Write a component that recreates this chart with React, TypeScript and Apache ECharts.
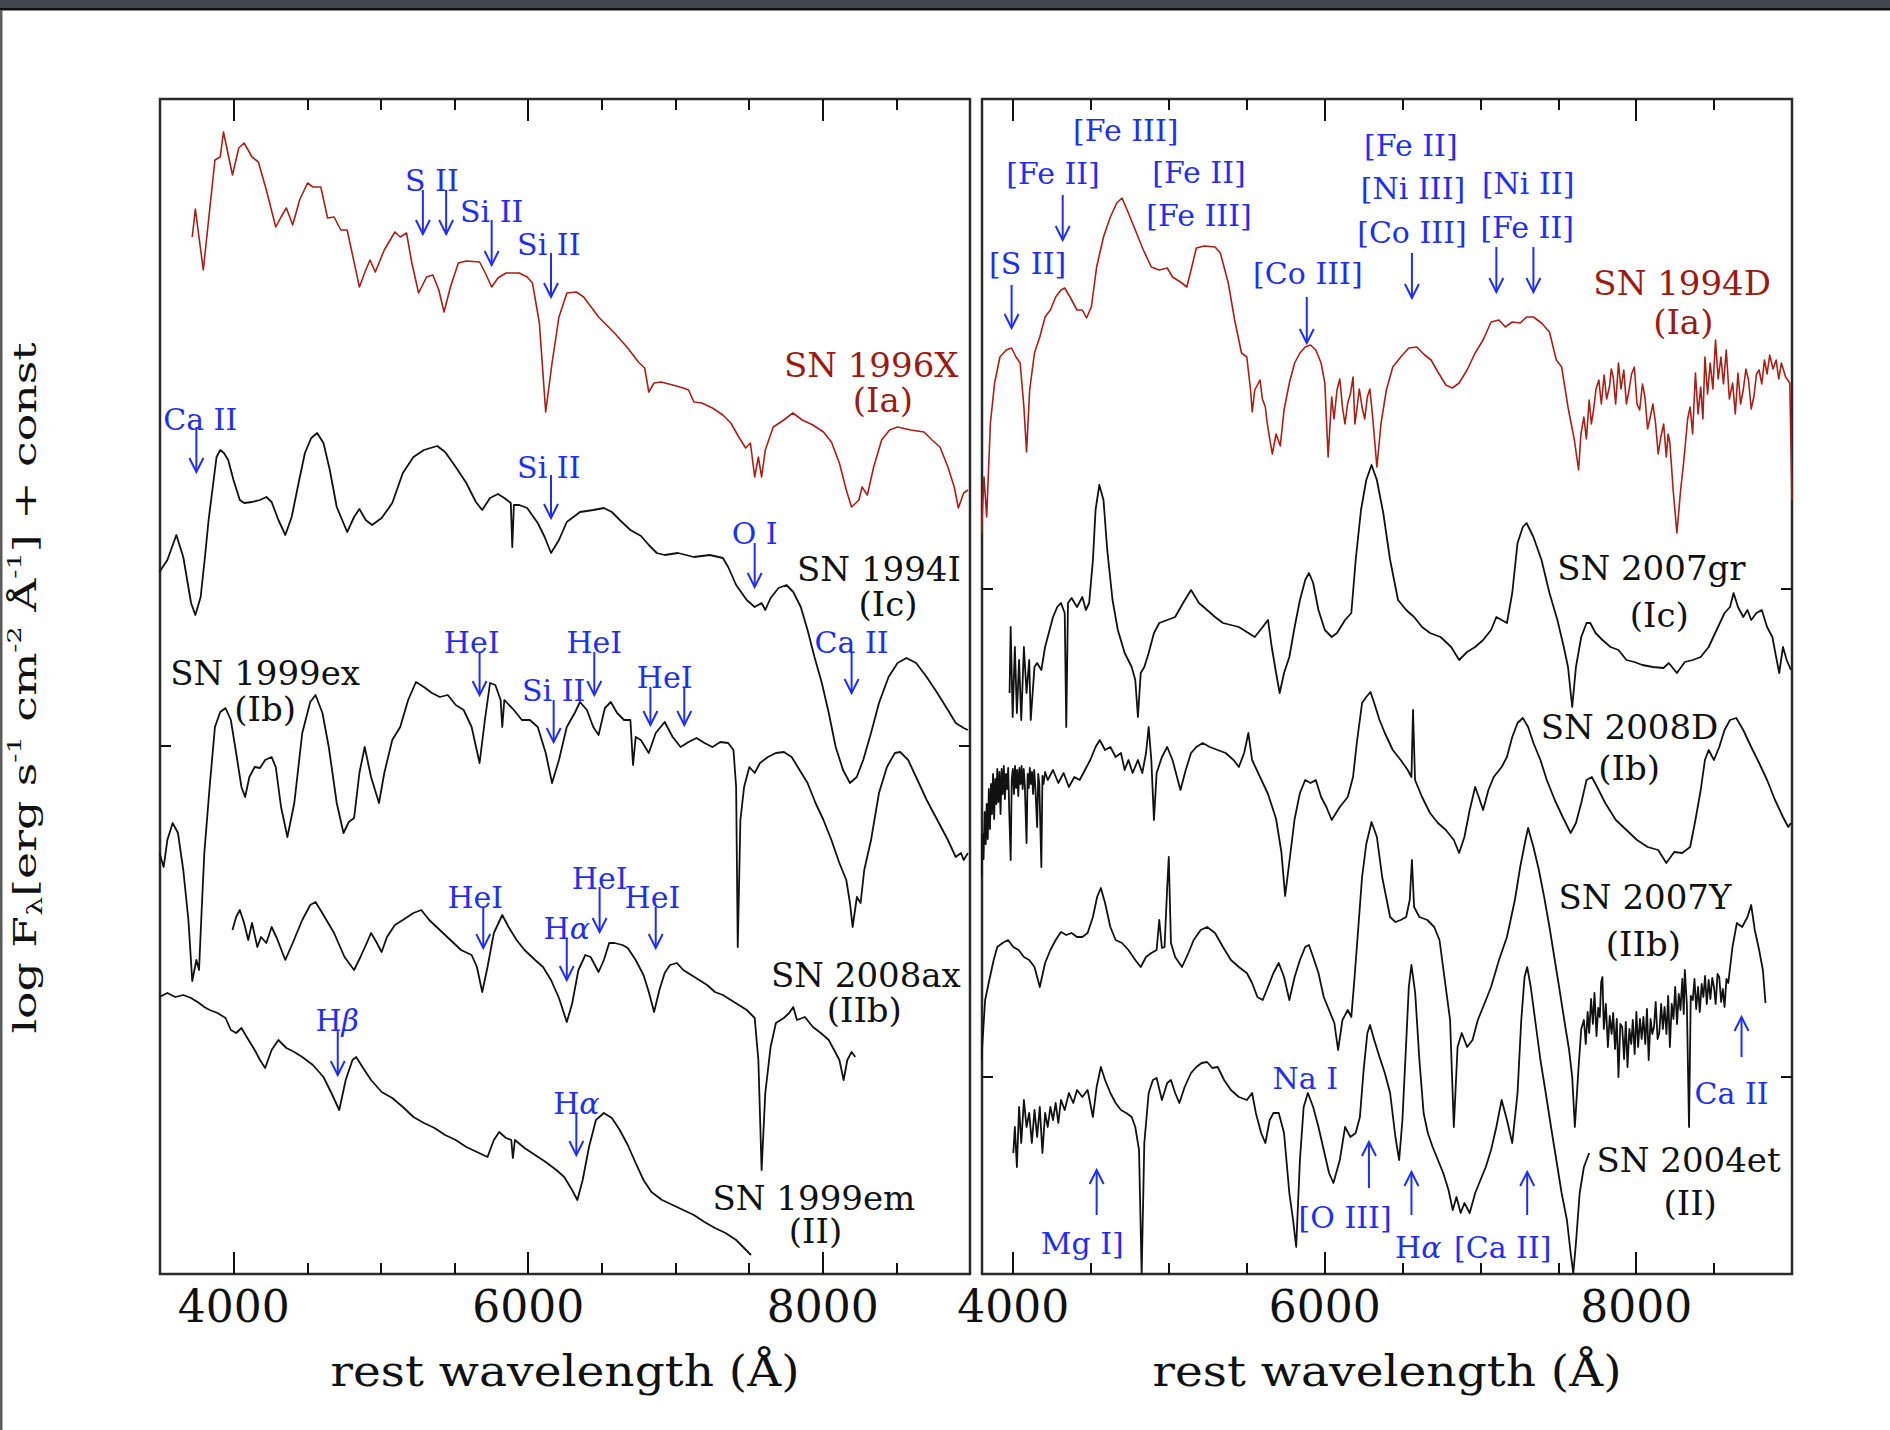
import React, { useEffect, useRef } from "react";
import * as echarts from "echarts";

const SERIF = '"DejaVu Serif", "Liberation Serif", serif';
const INK = "#111111";
const RED = "#a81f17";
const RED_TEXT = "#9c1a12";
const BLUE = "#1f2ff0";

// axes
const LEFT_RANGE = [3500, 9000];
const RIGHT_RANGE = [3800, 9000];
const MAJOR_TICKS = [4000, 6000, 8000];
const MINOR_TICKS = [4000, 4500, 5000, 5500, 6000, 6500, 7000, 7500, 8000, 8500];
const Y_RANGE = [0, 11.75];
const LEFT_Y_TICKS = [5.28];
const RIGHT_Y_TICKS = [1.97, 6.85];

// ---- left panel spectra: [wavelength (Å), log F + const] ----
const sn1996X = [[3719,10.37],[3740,10.65],[3794,10.04],[3873,11.14],[3909,11.17],[3931,11.42],[3992,10.99],[4035,11.26],[4071,11.31],[4125,11.17],[4168,11.12],[4222,10.84],[4286,10.47],[4322,10.57],[4358,10.66],[4401,10.49],[4448,10.74],[4502,10.91],[4538,10.87],[4592,10.87],[4638,10.56],[4682,10.57],[4728,10.44],[4771,10.44],[4800,10.24],[4854,9.87],[4897,10.04],[4926,10.14],[4962,10.02],[5023,10.24],[5095,10.42],[5131,10.37],[5174,10.41],[5210,10.11],[5256,9.81],[5310,9.97],[5353,9.99],[5393,9.84],[5429,9.62],[5472,9.87],[5526,10.11],[5580,10.13],[5670,10.12],[5706,10.02],[5752,9.87],[5795,9.96],[5849,10.01],[5939,10.01],[5993,9.97],[6029,9.91],[6076,9.51],[6119,8.62],[6162,9.11],[6209,9.57],[6263,9.81],[6327,9.82],[6377,9.77],[6478,9.57],[6586,9.41],[6676,9.26],[6748,9.12],[6791,9.06],[6819,8.82],[6855,8.91],[6902,8.92],[6981,8.89],[7053,8.86],[7089,8.84],[7125,8.72],[7179,8.71],[7251,8.66],[7322,8.59],[7376,8.51],[7430,8.37],[7477,8.26],[7509,8.31],[7538,7.97],[7563,8.17],[7585,7.97],[7610,8.24],[7664,8.47],[7736,8.54],[7797,8.61],[7861,8.54],[7933,8.49],[8005,8.42],[8059,8.32],[8113,8.11],[8160,7.84],[8196,7.67],[8246,7.74],[8267,7.87],[8303,7.79],[8346,8.07],[8400,8.34],[8454,8.44],[8508,8.47],[8598,8.44],[8688,8.42],[8742,8.34],[8796,8.27],[8850,8.07],[8893,7.87],[8921,7.66],[8957,7.81],[8986,7.84]];

const sn1994I = [[3496,7.02],[3550,7.14],[3611,7.39],[3658,7.17],[3711,6.71],[3740,6.59],[3776,6.77],[3808,7.21],[3830,7.54],[3884,8.17],[3909,8.24],[3934,8.21],[3963,8.14],[3999,7.94],[4042,7.74],[4071,7.71],[4125,7.72],[4179,7.74],[4222,7.77],[4258,7.72],[4304,7.54],[4351,7.39],[4394,7.57],[4441,7.91],[4484,8.21],[4527,8.36],[4567,8.41],[4610,8.31],[4653,8.04],[4700,7.67],[4771,7.42],[4818,7.57],[4854,7.65],[4897,7.54],[4940,7.49],[5005,7.56],[5077,7.71],[5149,8.01],[5221,8.17],[5292,8.24],[5382,8.28],[5436,8.22],[5508,8.07],[5580,7.91],[5645,7.72],[5688,7.64],[5741,7.76],[5795,7.80],[5838,7.76],[5882,7.71],[5892,7.27],[5903,7.69],[5939,7.69],[5993,7.66],[6065,7.51],[6112,7.37],[6155,7.21],[6209,7.34],[6262,7.52],[6298,7.56],[6352,7.62],[6442,7.64],[6514,7.66],[6568,7.62],[6622,7.54],[6694,7.44],[6766,7.38],[6819,7.29],[6873,7.21],[6927,7.19],[7017,7.21],[7125,7.17],[7233,7.19],[7322,7.16],[7358,7.07],[7412,6.89],[7484,6.74],[7538,6.67],[7585,6.71],[7610,6.64],[7646,6.76],[7700,6.86],[7754,6.89],[7800,6.82],[7851,6.67],[7897,6.44],[7944,6.17],[7994,5.91],[8041,5.61],[8088,5.27],[8138,5.04],[8185,4.91],[8231,4.97],[8275,5.14],[8328,5.41],[8382,5.71],[8447,5.97],[8508,6.11],[8569,6.16],[8634,6.11],[8706,5.97],[8778,5.81],[8850,5.64],[8903,5.51],[8957,5.46],[8986,5.44]];

const sn1999ex = [[3496,4.21],[3525,4.07],[3550,4.34],[3586,4.51],[3622,4.41],[3658,4.04],[3693,3.54],[3719,2.93],[3747,3.14],[3765,3.04],[3783,3.64],[3801,4.21],[3837,4.87],[3873,5.47],[3909,5.62],[3945,5.66],[3981,5.54],[4017,5.21],[4053,4.87],[4078,4.77],[4107,4.97],[4143,5.07],[4179,5.06],[4214,5.14],[4258,5.17],[4286,5.07],[4322,4.67],[4365,4.37],[4412,4.71],[4466,5.41],[4520,5.72],[4556,5.79],[4603,5.61],[4646,5.27],[4700,4.71],[4746,4.41],[4782,4.52],[4818,4.56],[4854,5.01],[4890,5.27],[4933,4.97],[4987,4.71],[5023,5.01],[5077,5.34],[5131,5.47],[5185,5.74],[5238,5.92],[5292,5.87],[5346,5.81],[5400,5.77],[5454,5.79],[5508,5.69],[5562,5.64],[5616,5.47],[5670,5.11],[5706,5.54],[5741,5.91],[5777,5.89],[5813,5.74],[5824,5.47],[5838,5.74],[5903,5.64],[5957,5.54],[6011,5.54],[6065,5.47],[6119,5.21],[6162,4.91],[6209,5.14],[6262,5.47],[6316,5.61],[6352,5.72],[6399,5.64],[6442,5.47],[6478,5.39],[6521,5.66],[6561,5.72],[6604,5.61],[6651,5.54],[6694,5.54],[6712,5.09],[6730,5.37],[6765,5.34],[6819,5.21],[6866,5.41],[6927,5.52],[6981,5.37],[7035,5.27],[7089,5.32],[7143,5.36],[7197,5.31],[7251,5.27],[7305,5.32],[7358,5.31],[7394,5.24],[7412,4.87],[7423,3.27],[7441,4.54],[7466,4.87],[7502,5.07],[7538,5.01],[7574,5.11],[7628,5.17],[7682,5.21],[7736,5.22],[7789,5.17],[7843,5.04],[7897,4.91],[7951,4.71],[8005,4.54],[8059,4.34],[8113,4.11],[8160,3.94],[8185,3.71],[8203,3.47],[8232,3.77],[8257,3.71],[8282,4.04],[8328,4.34],[8382,4.81],[8436,5.07],[8490,5.21],[8526,5.22],[8580,5.14],[8634,4.97],[8706,4.74],[8778,4.54],[8850,4.34],[8903,4.17],[8939,4.21],[8957,4.14],[8986,4.21]];

const sn2008ax = [[3992,3.44],[4017,3.57],[4042,3.64],[4071,3.51],[4099,3.34],[4125,3.51],[4161,3.27],[4186,3.37],[4222,3.31],[4258,3.47],[4293,3.36],[4351,3.14],[4401,3.31],[4466,3.54],[4520,3.69],[4556,3.72],[4610,3.59],[4682,3.41],[4753,3.17],[4818,3.04],[4861,3.17],[4904,3.31],[4933,3.41],[4969,3.32],[5005,3.22],[5041,3.37],[5095,3.49],[5149,3.54],[5221,3.61],[5274,3.64],[5328,3.54],[5400,3.44],[5472,3.34],[5544,3.24],[5616,3.19],[5652,3.07],[5688,2.82],[5724,3.07],[5767,3.41],[5824,3.59],[5867,3.47],[5921,3.34],[5975,3.24],[6047,3.14],[6101,3.07],[6155,2.94],[6209,2.76],[6262,2.52],[6298,2.70],[6341,3.04],[6388,3.19],[6424,3.17],[6478,3.02],[6514,3.14],[6550,3.31],[6586,3.31],[6640,3.29],[6676,3.26],[6730,3.14],[6783,2.99],[6819,2.82],[6855,2.62],[6891,2.84],[6927,3.01],[6963,3.09],[7010,3.11],[7053,3.04],[7107,2.99],[7161,2.94],[7215,2.89],[7268,2.82],[7322,2.79],[7376,2.74],[7430,2.69],[7484,2.64],[7538,2.56],[7563,2.14],[7585,1.04],[7610,1.81],[7646,2.27],[7682,2.51],[7736,2.56],[7772,2.61],[7800,2.67],[7825,2.54],[7879,2.57],[7933,2.47],[7987,2.41],[8041,2.34],[8088,2.21],[8113,2.14],[8142,1.94],[8167,2.14],[8196,2.22],[8221,2.17]];

const sn1999em = [[3496,2.77],[3550,2.81],[3604,2.77],[3658,2.79],[3711,2.76],[3765,2.71],[3801,2.67],[3837,2.64],[3891,2.61],[3945,2.56],[3981,2.44],[4017,2.41],[4053,2.46],[4089,2.37],[4143,2.24],[4179,2.14],[4214,2.06],[4258,2.24],[4304,2.34],[4358,2.26],[4412,2.22],[4466,2.17],[4538,2.09],[4610,1.97],[4664,1.81],[4717,1.64],[4761,1.94],[4807,2.14],[4832,2.17],[4879,2.06],[4933,1.94],[5005,1.82],[5077,1.76],[5149,1.67],[5221,1.57],[5292,1.51],[5364,1.46],[5436,1.39],[5508,1.34],[5580,1.27],[5652,1.22],[5724,1.17],[5767,1.34],[5803,1.42],[5849,1.36],[5885,1.34],[5896,1.16],[5910,1.34],[5975,1.26],[6047,1.19],[6119,1.12],[6191,1.04],[6245,0.97],[6298,0.84],[6334,0.74],[6370,0.94],[6413,1.27],[6460,1.54],[6514,1.61],[6568,1.56],[6622,1.44],[6676,1.29],[6730,1.11],[6783,0.94],[6837,0.82],[6909,0.74],[6981,0.69],[7053,0.64],[7125,0.59],[7197,0.52],[7268,0.46],[7340,0.41],[7412,0.34],[7466,0.26],[7513,0.19]];

// ---- right panel spectra ----
const sn1994D = [[3796,7.41],[3813,7.97],[3830,7.57],[3854,8.51],[3881,8.91],[3915,9.17],[3956,9.24],[3990,9.26],[4018,9.17],[4045,9.11],[4069,8.67],[4086,8.22],[4106,8.84],[4137,9.21],[4171,9.37],[4205,9.57],[4239,9.64],[4273,9.77],[4307,9.84],[4331,9.86],[4365,9.77],[4410,9.64],[4444,9.64],[4471,9.56],[4502,9.67],[4536,10.07],[4580,10.37],[4624,10.57],[4665,10.71],[4699,10.76],[4740,10.61],[4784,10.44],[4836,10.24],[4887,10.07],[4938,10.04],[4989,10.06],[5023,9.97],[5074,9.92],[5115,9.87],[5142,10.04],[5176,10.26],[5227,10.28],[5296,10.27],[5330,10.21],[5381,9.91],[5422,9.54],[5466,9.21],[5500,9.17],[5524,8.84],[5535,8.62],[5551,8.84],[5585,8.94],[5600,8.75],[5619,8.67],[5630,8.52],[5647,8.35],[5664,8.20],[5688,8.40],[5715,8.28],[5739,8.64],[5773,8.91],[5807,9.11],[5841,9.21],[5875,9.27],[5909,9.29],[5943,9.24],[5977,9.11],[6001,8.91],[6022,8.17],[6045,8.77],[6060,8.55],[6079,8.84],[6097,8.95],[6114,8.67],[6130,8.50],[6148,8.71],[6165,8.80],[6182,8.97],[6194,8.50],[6206,8.64],[6222,8.85],[6240,8.67],[6257,8.55],[6274,8.77],[6290,8.85],[6308,8.57],[6335,8.07],[6362,8.51],[6396,8.84],[6437,9.07],[6488,9.17],[6540,9.26],[6591,9.27],[6642,9.19],[6683,9.14],[6727,9.02],[6778,8.89],[6819,8.86],[6863,8.91],[6914,9.04],[6966,9.21],[7017,9.34],[7068,9.52],[7119,9.54],[7160,9.47],[7204,9.52],[7255,9.51],[7296,9.57],[7340,9.57],[7392,9.51],[7443,9.42],[7487,9.14],[7521,9.07],[7562,8.67],[7603,8.34],[7630,8.04],[7645,8.40],[7664,8.57],[7680,8.35],[7698,8.74],[7712,8.50],[7726,8.64],[7742,8.85],[7760,8.94],[7776,8.70],[7794,8.99],[7810,8.75],[7828,8.87],[7840,9.05],[7852,8.97],[7868,8.70],[7886,9.11],[7902,8.85],[7920,9.04],[7937,8.70],[7954,8.84],[7970,9.00],[7988,9.07],[8005,8.70],[8022,8.64],[8040,8.90],[8056,8.77],[8073,8.45],[8090,8.57],[8107,8.70],[8124,8.51],[8141,8.20],[8158,8.37],[8176,8.50],[8193,8.17],[8205,8.40],[8216,8.31],[8237,7.84],[8261,7.41],[8285,7.84],[8300,8.05],[8312,8.24],[8330,8.55],[8346,8.67],[8362,8.40],[8380,9.01],[8397,8.60],[8414,8.87],[8428,8.55],[8441,9.17],[8458,8.80],[8475,9.11],[8492,8.85],[8509,9.34],[8526,8.95],[8544,9.17],[8560,8.90],[8578,9.24],[8598,8.75],[8619,8.91],[8636,8.60],[8653,9.01],[8670,8.70],[8687,8.84],[8704,9.05],[8721,8.94],[8738,8.65],[8755,8.77],[8772,9.00],[8789,9.04],[8806,8.90],[8823,9.14],[8840,9.00],[8857,9.19],[8878,9.05],[8898,9.14],[8915,8.95],[8932,9.11],[8959,8.97],[8986,8.91],[9000,7.74]];

const sn2007gr = [[3977,5.81],[3984,6.47],[3997,5.57],[4011,6.27],[4024,5.61],[4038,6.14],[4052,5.54],[4069,6.27],[4086,5.81],[4103,6.14],[4113,5.54],[4137,6.07],[4154,6.11],[4181,6.04],[4205,6.27],[4239,6.47],[4256,6.57],[4283,6.67],[4307,6.71],[4331,6.61],[4341,5.47],[4352,6.71],[4375,6.76],[4410,6.67],[4444,6.77],[4467,6.64],[4488,6.71],[4512,7.14],[4529,7.64],[4553,7.89],[4580,7.74],[4604,7.24],[4638,6.74],[4672,6.44],[4716,6.21],[4761,6.07],[4784,5.94],[4801,5.57],[4819,6.01],[4842,6.07],[4870,6.21],[4904,6.41],[4938,6.51],[4989,6.54],[5040,6.57],[5091,6.71],[5142,6.84],[5193,6.71],[5245,6.64],[5296,6.57],[5347,6.51],[5398,6.49],[5449,6.47],[5500,6.42],[5551,6.37],[5602,6.47],[5636,6.54],[5660,6.27],[5688,6.01],[5711,5.81],[5739,6.01],[5773,6.17],[5807,6.47],[5841,6.74],[5875,6.94],[5899,7.01],[5926,6.91],[5960,6.64],[6001,6.44],[6045,6.37],[6079,6.41],[6131,6.54],[6171,6.61],[6199,7.14],[6233,7.64],[6267,7.94],[6301,8.09],[6335,7.94],[6376,7.61],[6420,7.14],[6471,6.74],[6523,6.64],[6574,6.57],[6625,6.47],[6676,6.41],[6744,6.37],[6812,6.27],[6863,6.14],[6914,6.22],[6966,6.27],[7017,6.34],[7068,6.44],[7102,6.57],[7136,6.54],[7170,6.51],[7204,6.81],[7238,7.31],[7272,7.47],[7296,7.51],[7340,7.37],[7392,7.14],[7443,6.81],[7494,6.54],[7535,6.27],[7562,6.07],[7589,5.67],[7613,6.07],[7647,6.37],[7681,6.51],[7705,6.51],[7739,6.41],[7783,6.34],[7835,6.27],[7886,6.24],[7937,6.14],[7988,6.12],[8039,6.09],[8107,6.07],[8175,6.06],[8209,6.11],[8261,6.01],[8312,6.12],[8363,6.14],[8414,6.17],[8465,6.27],[8516,6.44],[8567,6.61],[8602,6.67],[8625,6.81],[8653,6.67],[8687,6.57],[8714,6.64],[8738,6.54],[8772,6.61],[8806,6.64],[8840,6.47],[8874,6.37],[8898,6.17],[8918,6.01],[8942,6.27],[8966,6.14],[8993,6.04]];

const sn2008D = [[3796,3.97],[3803,4.40],[3810,4.15],[3817,4.62],[3824,4.30],[3830,4.70],[3837,4.35],[3844,4.85],[3851,4.45],[3858,4.90],[3864,4.60],[3871,5.00],[3878,4.55],[3885,4.95],[3892,4.70],[3898,5.05],[3905,4.72],[3912,5.02],[3919,4.60],[3926,5.05],[3933,4.80],[3940,5.08],[3947,4.75],[3954,5.00],[3961,4.85],[3968,5.06],[3975,4.62],[3984,4.14],[3991,4.95],[3998,5.05],[4005,4.80],[4012,5.08],[4019,4.86],[4026,5.04],[4033,4.78],[4040,5.06],[4047,4.90],[4054,5.08],[4061,4.85],[4068,5.05],[4075,4.88],[4086,4.31],[4093,5.00],[4100,4.86],[4107,5.06],[4114,4.90],[4121,5.02],[4128,4.80],[4135,5.04],[4142,4.88],[4154,4.47],[4161,5.00],[4168,4.90],[4181,4.07],[4188,4.98],[4195,4.90],[4205,5.02],[4222,4.94],[4256,5.04],[4290,4.91],[4324,5.01],[4358,4.87],[4393,4.97],[4427,4.94],[4461,5.04],[4495,5.14],[4529,5.27],[4556,5.34],[4590,5.24],[4624,5.27],[4658,5.17],[4692,5.21],[4716,5.04],[4740,5.14],[4767,5.01],[4801,5.14],[4829,5.01],[4853,5.21],[4870,5.47],[4887,5.14],[4904,4.54],[4921,5.01],[4955,5.17],[4989,5.27],[5023,5.14],[5057,4.94],[5074,4.84],[5108,5.04],[5142,5.21],[5176,5.27],[5217,5.31],[5262,5.27],[5313,5.24],[5364,5.21],[5415,5.14],[5449,5.07],[5483,5.21],[5510,5.41],[5534,5.14],[5585,4.97],[5636,4.80],[5688,4.55],[5722,4.22],[5746,3.78],[5773,4.12],[5807,4.55],[5841,4.81],[5875,4.94],[5909,4.91],[5943,4.94],[5977,4.77],[6011,4.67],[6045,4.54],[6097,4.67],[6148,4.77],[6182,4.97],[6206,5.31],[6240,5.71],[6267,5.77],[6294,5.82],[6318,5.71],[6352,5.54],[6386,5.41],[6437,5.24],[6488,5.14],[6533,5.04],[6557,4.97],[6567,5.64],[6580,4.94],[6625,4.77],[6676,4.61],[6727,4.51],[6778,4.44],[6829,4.34],[6863,4.21],[6897,4.37],[6931,4.64],[6966,4.87],[6989,4.77],[7017,4.64],[7051,4.84],[7085,4.97],[7136,5.07],[7170,5.17],[7204,5.37],[7238,5.51],[7272,5.56],[7306,5.47],[7340,5.31],[7385,5.14],[7426,4.94],[7477,4.74],[7528,4.57],[7579,4.41],[7613,4.51],[7647,4.71],[7681,4.94],[7715,4.97],[7749,4.87],[7801,4.71],[7869,4.54],[7937,4.44],[8005,4.34],[8073,4.27],[8141,4.24],[8193,4.11],[8244,4.22],[8295,4.21],[8346,4.27],[8380,4.54],[8414,4.84],[8441,5.14],[8465,5.24],[8499,5.14],[8533,5.27],[8567,5.44],[8602,5.54],[8642,5.56],[8687,5.44],[8738,5.27],[8789,5.11],[8840,4.94],[8891,4.74],[8942,4.57],[8976,4.47],[8993,4.51]];

const sn2007Y = [[3796,2.14],[3820,2.74],[3847,2.94],[3875,3.14],[3898,3.27],[3932,3.31],[3967,3.34],[4001,3.27],[4035,3.24],[4069,3.17],[4103,3.14],[4137,3.07],[4171,2.87],[4205,3.11],[4239,3.24],[4273,3.34],[4307,3.42],[4341,3.39],[4375,3.41],[4410,3.37],[4444,3.37],[4478,3.41],[4512,3.57],[4539,3.77],[4563,3.86],[4590,3.71],[4624,3.47],[4658,3.34],[4699,3.31],[4740,3.24],[4784,3.14],[4819,3.07],[4853,3.17],[4887,3.21],[4921,3.24],[4938,3.54],[4955,3.26],[4972,3.27],[4989,3.87],[4999,4.17],[5013,3.31],[5040,3.17],[5084,3.07],[5125,3.21],[5159,3.34],[5204,3.44],[5245,3.47],[5296,3.41],[5347,3.27],[5398,3.14],[5449,3.07],[5500,3.01],[5534,2.91],[5568,2.77],[5602,2.74],[5636,2.87],[5671,3.01],[5705,3.11],[5739,2.97],[5773,2.74],[5807,2.97],[5841,3.14],[5875,3.27],[5899,3.29],[5926,3.17],[5960,3.01],[5994,2.77],[6028,2.64],[6062,2.51],[6086,2.24],[6114,2.54],[6148,2.64],[6171,2.57],[6192,2.97],[6216,3.47],[6240,3.97],[6267,4.30],[6301,4.52],[6335,4.37],[6369,3.97],[6420,3.57],[6454,3.52],[6488,3.54],[6523,3.57],[6546,3.74],[6560,4.14],[6574,3.67],[6608,3.57],[6659,3.54],[6703,3.47],[6737,3.34],[6771,2.94],[6805,2.54],[6829,1.47],[6853,2.27],[6880,2.41],[6914,2.27],[6949,2.34],[6983,2.54],[7017,2.67],[7068,2.87],[7119,3.14],[7170,3.37],[7221,3.74],[7255,4.07],[7289,4.34],[7306,4.46],[7340,4.27],[7375,4.04],[7409,3.77],[7443,3.47],[7477,3.14],[7511,2.81],[7545,2.47],[7569,2.24],[7589,1.97],[7606,1.47],[7630,2.07],[7647,2.45],[7664,2.54],[7676,2.30],[7688,2.62],[7698,2.41],[7710,2.75],[7722,2.50],[7732,2.81],[7745,2.38],[7756,2.66],[7766,2.57],[7775,2.92],[7783,2.97],[7792,2.45],[7805,2.70],[7818,2.27],[7830,2.58],[7842,2.40],[7852,2.61],[7864,2.25],[7875,2.55],[7886,1.97],[7898,2.50],[7910,2.47],[7922,2.15],[7933,2.52],[7944,2.07],[7956,2.45],[7968,2.30],[7978,2.54],[7990,2.20],[8001,2.62],[8012,2.27],[8024,2.55],[8035,2.35],[8046,2.57],[8058,2.30],[8069,2.65],[8080,2.14],[8092,2.55],[8103,2.40],[8114,2.47],[8125,2.72],[8137,2.35],[8148,2.41],[8160,2.70],[8171,2.45],[8182,2.67],[8194,2.40],[8205,2.78],[8216,2.27],[8228,2.70],[8239,2.55],[8250,2.87],[8262,2.50],[8273,2.80],[8284,2.64],[8296,2.95],[8305,2.60],[8312,3.04],[8325,2.70],[8339,1.47],[8350,2.78],[8363,2.74],[8374,2.95],[8385,2.65],[8397,2.87],[8408,2.62],[8420,2.90],[8431,2.77],[8442,2.98],[8453,2.70],[8465,2.94],[8476,2.75],[8488,2.96],[8499,2.87],[8510,2.70],[8522,3.00],[8533,2.97],[8545,2.72],[8556,2.85],[8567,2.67],[8579,2.95],[8591,2.91],[8605,3.10],[8618,3.27],[8646,3.51],[8680,3.47],[8714,3.57],[8738,3.69],[8761,3.44],[8789,3.24],[8813,3.04],[8830,2.71]];

const sn2004et = [[4001,1.21],[4011,1.47],[4024,1.07],[4038,1.67],[4052,1.31],[4069,1.74],[4086,1.47],[4103,1.61],[4120,1.31],[4137,1.64],[4154,1.37],[4171,1.67],[4188,1.21],[4205,1.61],[4222,1.47],[4239,1.67],[4256,1.54],[4273,1.71],[4290,1.51],[4307,1.74],[4331,1.64],[4358,1.81],[4386,1.71],[4410,1.84],[4444,1.77],[4478,1.84],[4512,1.57],[4536,1.87],[4563,2.07],[4590,1.94],[4624,1.81],[4658,1.71],[4692,1.64],[4726,1.61],[4761,1.57],[4784,1.47],[4808,1.24],[4825,0.0],[4842,1.31],[4870,1.81],[4897,1.94],[4921,1.96],[4955,1.74],[4989,1.91],[5013,1.94],[5040,1.81],[5067,1.71],[5101,1.87],[5142,2.01],[5176,2.07],[5210,2.11],[5245,2.12],[5279,2.06],[5313,2.07],[5354,1.94],[5398,1.84],[5449,1.77],[5500,1.74],[5534,1.81],[5558,1.61],[5592,1.41],[5619,1.31],[5647,1.54],[5671,1.61],[5705,1.61],[5739,1.41],[5773,0.81],[5797,0.54],[5817,0.27],[5841,1.14],[5865,1.67],[5892,1.81],[5926,1.67],[5960,1.47],[5994,1.24],[6028,1.01],[6056,0.91],[6097,1.14],[6131,1.47],[6165,1.37],[6199,1.41],[6226,1.57],[6250,2.04],[6274,2.41],[6291,2.49],[6318,2.34],[6352,2.17],[6386,2.01],[6420,1.81],[6454,1.37],[6478,1.14],[6499,1.54],[6523,2.31],[6540,2.87],[6557,3.09],[6581,2.81],[6608,2.14],[6635,1.61],[6662,1.41],[6693,1.27],[6727,1.14],[6761,1.01],[6795,0.84],[6822,0.64],[6846,0.77],[6873,0.61],[6897,0.71],[6931,0.61],[6966,0.81],[7000,0.94],[7034,1.07],[7068,1.24],[7102,1.47],[7136,1.74],[7170,1.54],[7204,1.31],[7238,1.81],[7262,2.54],[7283,2.97],[7300,3.07],[7323,2.87],[7351,2.54],[7385,2.14],[7419,1.81],[7453,1.47],[7487,1.14],[7521,0.81],[7555,0.54],[7579,0.21],[7596,0.01],[7613,0.31],[7637,0.81],[7664,1.07],[7698,1.21]];

// ---- annotations (line identifications) ----
const leftLines = [
  { t: "S II", x: 5346, y: 10.94 }, { t: "Si II", x: 5752, y: 10.63 }, { t: "Si II", x: 6140, y: 10.30 },
  { t: "Ca II", x: 3773, y: 8.55 }, { t: "Si II", x: 6140, y: 8.07 }, { t: "O I", x: 7538, y: 7.41 },
  { t: "Ca II", x: 8196, y: 6.32 }, { t: "HeI", x: 5616, y: 6.32 }, { t: "HeI", x: 6449, y: 6.32 },
  { t: "Si II", x: 6173, y: 5.84 }, { t: "HeI", x: 6927, y: 5.97 }, { t: "HeI", x: 5641, y: 3.77 },
  { t: "HeI", x: 6485, y: 3.96 }, { t: "H{g|α}", x: 6262, y: 3.46 }, { t: "HeI", x: 6844, y: 3.77 },
  { t: "H{g|β}", x: 4703, y: 2.54 }, { t: "H{g|α}", x: 6327, y: 1.71 },
];
const leftArrows = [
  [5285, 10.84, 10.40], [5443, 10.84, 10.40], [5752, 10.54, 10.09], [6155, 10.21, 9.77],
  [3747, 8.47, 8.02], [6155, 7.99, 7.56], [7538, 7.31, 6.87], [8196, 6.22, 5.81],
  [5670, 6.22, 5.79], [6449, 6.22, 5.79], [6173, 5.74, 5.32], [6830, 5.87, 5.49], [7060, 5.87, 5.49],
  [5695, 3.67, 3.26], [6485, 3.87, 3.42], [6262, 3.36, 2.94], [6866, 3.67, 3.26],
  [4707, 2.44, 1.99], [6327, 1.61, 1.19],
];
const rightLines = [
  { t: "[S II]", x: 4093, y: 10.11 }, { t: "[Fe II]", x: 4256, y: 11.01 }, { t: "[Fe III]", x: 4723, y: 11.44 },
  { t: "[Fe II]", x: 5193, y: 11.02 }, { t: "[Fe III]", x: 5193, y: 10.59 }, { t: "[Co III]", x: 5892, y: 10.01 },
  { t: "[Fe II]", x: 6553, y: 11.29 }, { t: "[Ni III]", x: 6567, y: 10.86 }, { t: "[Co III]", x: 6560, y: 10.42 },
  { t: "[Ni II]", x: 7306, y: 10.91 }, { t: "[Fe II]", x: 7300, y: 10.47 }, { t: "Na I", x: 5875, y: 1.96 },
  { t: "Mg I]", x: 4444, y: 0.31 }, { t: "[O III]", x: 6131, y: 0.57 }, { t: "H{g|α}", x: 6601, y: 0.27 },
  { t: "[Ca II]", x: 7143, y: 0.27 }, { t: "Ca II", x: 8612, y: 1.81 },
];
const rightArrows = [
  [3990, 9.89, 9.46], [4318, 10.79, 10.34], [5885, 9.77, 9.31], [6560, 10.21, 9.76],
  [7102, 10.27, 9.82], [7340, 10.27, 9.82], [4536, 0.59, 1.04], [6284, 0.86, 1.32],
  [6557, 0.59, 1.02], [7300, 0.59, 1.02], [8676, 2.17, 2.57],
];

// ---- supernova names ----
const leftNamesRed = [{ t: "SN 1996X", x: 8329, y: 9.09 }, { t: "(Ia)", x: 8408, y: 8.74 }];
const leftNames = [
  { t: "SN 1994I", x: 8382, y: 7.05 }, { t: "(Ic)", x: 8443, y: 6.70 },
  { t: "SN 1999ex", x: 4214, y: 6.01 }, { t: "(Ib)", x: 4214, y: 5.65 },
  { t: "SN 2008ax", x: 8293, y: 2.99 }, { t: "(IIb)", x: 8282, y: 2.64 },
  { t: "SN 1999em", x: 7940, y: 0.76 }, { t: "(II)", x: 7951, y: 0.43 },
];
const rightNamesRed = [{ t: "SN 1994D", x: 8295, y: 9.91 }, { t: "(Ia)", x: 8302, y: 9.52 }];
const rightNames = [
  { t: "SN 2007gr", x: 8097, y: 7.06 }, { t: "(Ic)", x: 8148, y: 6.59 },
  { t: "SN 2008D", x: 7957, y: 5.47 }, { t: "(Ib)", x: 7954, y: 5.06 },
  { t: "SN 2007Y", x: 8056, y: 3.77 }, { t: "(IIb)", x: 8046, y: 3.30 },
  { t: "SN 2004et", x: 8336, y: 1.14 }, { t: "(II)", x: 8346, y: 0.71 },
];

function panelAxes(gridIndex: number, range: number[], yTicks: number[]) {
  const tickStyle = { color: INK, width: 2 };
  const common = {
    type: "value", gridIndex, min: range[0], max: range[1],
    axisLine: { show: false }, splitLine: { show: false },
  };
  const x = [
    {
      ...common, position: "bottom",
      axisTick: { show: true, inside: true, length: 22, customValues: MAJOR_TICKS, lineStyle: tickStyle },
      axisLabel: {
        show: true, customValues: MAJOR_TICKS, margin: 10, color: INK,
        fontFamily: SERIF, fontSize: 44, formatter: (v: number) => String(v),
      },
    },
    { ...common, position: "bottom", axisTick: { show: true, inside: true, length: 11, customValues: MINOR_TICKS, lineStyle: tickStyle }, axisLabel: { show: false } },
    { ...common, position: "top", axisTick: { show: true, inside: true, length: 22, customValues: MAJOR_TICKS, lineStyle: tickStyle }, axisLabel: { show: false } },
    { ...common, position: "top", axisTick: { show: true, inside: true, length: 11, customValues: MINOR_TICKS, lineStyle: tickStyle }, axisLabel: { show: false } },
  ];
  const yCommon = {
    type: "value", gridIndex, min: Y_RANGE[0], max: Y_RANGE[1],
    axisLine: { show: false }, splitLine: { show: false }, axisLabel: { show: false },
    axisTick: { show: true, inside: true, length: 11, customValues: yTicks, lineStyle: tickStyle },
  };
  const y = [{ ...yCommon, position: "left" }, { ...yCommon, position: "right" }];
  return { x, y };
}

function spectrum(data: number[][], xi: number, yi: number, color: string, width: number) {
  return {
    type: "line", xAxisIndex: xi, yAxisIndex: yi, data, showSymbol: false, symbol: "none",
    silent: true, z: 3, lineStyle: { color, width, join: "round" },
  };
}

function textSeries(notes: any[], xi: number, yi: number, color: string, size: number, lh: number) {
  return {
    type: "custom", xAxisIndex: xi, yAxisIndex: yi, silent: true, z: 6, clip: false,
    data: notes.map((n) => [n.x, n.y]),
    renderItem: (params: any, api: any) => {
      const n = notes[params.dataIndex];
      const p = api.coord([api.value(0), api.value(1)]);
      return {
        type: "text", x: p[0], y: p[1],
        style: {
          text: n.t, fill: color, font: `${size}px ${SERIF}`, align: "center", verticalAlign: "middle",
          lineHeight: lh,
          rich: { g: { fontStyle: "italic", fontSize: size, fontFamily: SERIF, fill: color, lineHeight: lh } },
        },
      };
    },
  };
}

function arrowSeries(arrows: number[][], xi: number, yi: number) {
  return {
    type: "custom", xAxisIndex: xi, yAxisIndex: yi, silent: true, z: 6, clip: false,
    data: arrows.map((a) => [a[0], a[1]]),
    renderItem: (params: any, api: any) => {
      const a = arrows[params.dataIndex];
      const p1 = api.coord([a[0], a[1]]);
      const p2 = api.coord([a[0], a[2]]);
      const dir = p2[1] > p1[1] ? 1 : -1;
      const hl = 14, hw = 7;
      return {
        type: "group",
        children: [
          { type: "line", shape: { x1: p1[0], y1: p1[1], x2: p2[0], y2: p2[1] }, style: { stroke: BLUE, lineWidth: 2 } },
          {
            type: "polyline",
            shape: { points: [[p2[0] - hw, p2[1] - dir * hl], [p2[0], p2[1]], [p2[0] + hw, p2[1] - dir * hl]] },
            style: { stroke: BLUE, lineWidth: 2, fill: null },
          },
        ],
      };
    },
  };
}

export default function App() {
  const ref = useRef<HTMLDivElement>(null);
  useEffect(() => {
    if (!ref.current) return;
    const chart = echarts.init(ref.current, null, { renderer: "svg" });
    const L = panelAxes(0, LEFT_RANGE, LEFT_Y_TICKS);
    const R = panelAxes(1, RIGHT_RANGE, RIGHT_Y_TICKS);
    const option: any = {
      animation: false,
      backgroundColor: "#ffffff",
      grid: [
        { left: 160, top: 99, width: 810, height: 1175, show: true, borderColor: "#2a2a2a", borderWidth: 2.5, backgroundColor: "transparent" },
        { left: 982, top: 99, width: 810, height: 1175, show: true, borderColor: "#2a2a2a", borderWidth: 2.5, backgroundColor: "transparent" },
      ],
      xAxis: [...L.x, ...R.x],
      yAxis: [...L.y, ...R.y],
      series: [
        spectrum(sn1996X, 0, 0, RED, 1.6),
        spectrum(sn1994I, 0, 0, INK, 1.8),
        spectrum(sn1999ex, 0, 0, INK, 1.8),
        spectrum(sn2008ax, 0, 0, INK, 1.8),
        spectrum(sn1999em, 0, 0, INK, 1.8),
        spectrum(sn1994D, 4, 2, RED, 1.6),
        spectrum(sn2007gr, 4, 2, INK, 1.8),
        spectrum(sn2008D, 4, 2, INK, 1.8),
        spectrum(sn2007Y, 4, 2, INK, 1.8),
        spectrum(sn2004et, 4, 2, INK, 1.8),
        textSeries(leftLines, 0, 0, BLUE, 30, 30),
        textSeries(rightLines, 4, 2, BLUE, 30, 30),
        arrowSeries(leftArrows, 0, 0),
        arrowSeries(rightArrows, 4, 2),
        textSeries(leftNamesRed, 0, 0, RED_TEXT, 34, 28),
        textSeries(leftNames, 0, 0, INK, 34, 28),
        textSeries(rightNamesRed, 4, 2, RED_TEXT, 34, 28),
        textSeries(rightNames, 4, 2, INK, 34, 28),
      ],
      graphic: [
        { type: "rect", shape: { x: 0, y: 0, width: 1890, height: 9 }, style: { fill: "#41454e" }, z: 10 },
        { type: "rect", shape: { x: 0, y: 8, width: 1890, height: 2.5 }, style: { fill: "#101010" }, z: 10 },
        { type: "rect", shape: { x: 0, y: 10, width: 2.5, height: 1420 }, style: { fill: "#5c5c5c" }, z: 10 },
        {
          type: "text", x: 565, y: 1372, scaleX: 1.12,
          style: { text: "rest wavelength (Å)", font: `42px ${SERIF}`, fill: INK, align: "center", verticalAlign: "middle" },
        },
        {
          type: "text", x: 1387, y: 1372, scaleX: 1.12,
          style: { text: "rest wavelength (Å)", font: `42px ${SERIF}`, fill: INK, align: "center", verticalAlign: "middle" },
        },
        {
          type: "text", x: 25, y: 688, rotation: Math.PI / 2, scaleX: 1.43,
          style: {
            text: "log F{sub|λ}[erg s{sup|-1} cm{sup|-2} Å{sup|-1}] + const",
            font: `32px ${SERIF}`, fill: INK, align: "center", verticalAlign: "middle", lineHeight: 40,
            rich: {
              sub: { fontSize: 21, fontFamily: SERIF, fill: INK, verticalAlign: "bottom", lineHeight: 40 },
              sup: { fontSize: 19, fontFamily: SERIF, fill: INK, verticalAlign: "top", lineHeight: 40 },
            },
          },
        },
      ],
    };
    chart.setOption(option);
    return () => chart.dispose();
  }, []);
  return <div ref={ref} style={{ position: "absolute", left: 0, top: 0, width: 1890, height: 1430 }} />;
}
